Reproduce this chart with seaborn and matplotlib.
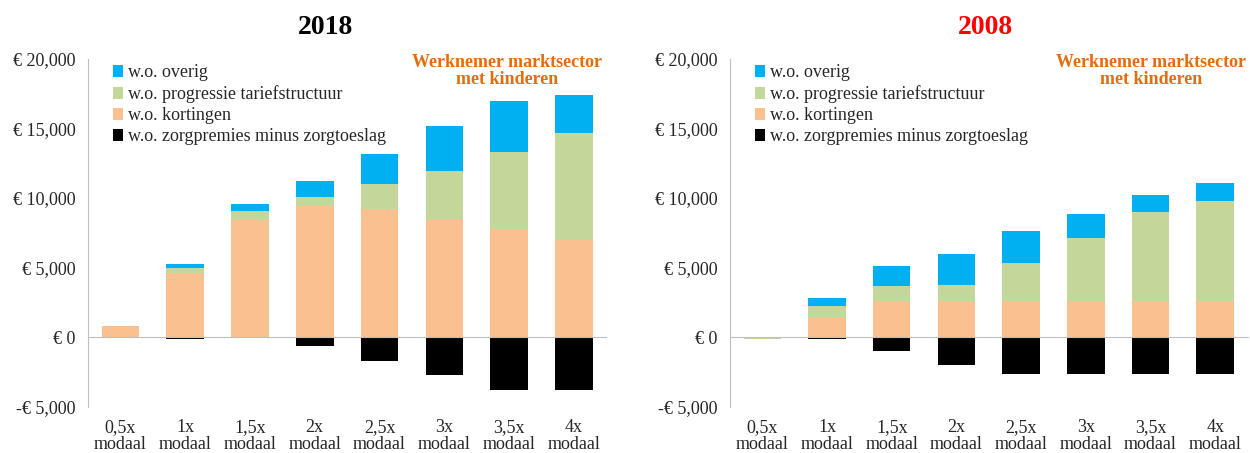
import numpy as np
import pandas as pd
import matplotlib
matplotlib.use("Agg")
import matplotlib.pyplot as plt
import matplotlib.ticker as mticker
from matplotlib.patches import Patch
import seaborn as sns

categories = ["0,5x\nmodaal", "1x\nmodaal", "1,5x\nmodaal", "2x\nmodaal",
              "2,5x\nmodaal", "3x\nmodaal", "3,5x\nmodaal", "4x\nmodaal"]

series = ["w.o. overig", "w.o. progressie tariefstructuur",
          "w.o. kortingen", "w.o. zorgpremies minus zorgtoeslag"]

# 2018 (segment sizes)
kortingen_2018 = [800, 4600, 8400, 9450, 9200, 8450, 7750, 6950]
progressie_2018 = [0, 350, 650, 650, 1800, 3500, 5550, 7750]
overig_2018 = [0, 300, 500, 1100, 2150, 3250, 3700, 2700]
zorg_2018 = [0, -100, 0, -600, -1700, -2750, -3800, -3800]

# 2008 (segment sizes)
kortingen_2008 = [0, 1420, 2570, 2570, 2570, 2570, 2570, 2570]
progressie_2008 = [-150, 840, 1110, 1180, 2760, 4590, 6400, 7240]
overig_2008 = [0, 580, 1460, 2210, 2270, 1660, 1220, 1290]
zorg_2008 = [0, -100, -990, -2000, -2620, -2620, -2620, -2620]

colors = {
    "w.o. overig": "#00B0F0",
    "w.o. progressie tariefstructuur": "#C4D79B",
    "w.o. kortingen": "#FAC090",
    "w.o. zorgpremies minus zorgtoeslag": "#000000",
}

sns.set_style("white")
plt.rcParams['font.family'] = ['Liberation Serif', 'DejaVu Serif']

fig = plt.figure(figsize=(12.5, 4.53), dpi=100)
ax1 = fig.add_axes([0.0704, 0.102, 0.4146, 0.768])
ax2 = fig.add_axes([0.584, 0.102, 0.414, 0.768])


def euro(v, pos):
    if v < 0:
        return "-€ {:,.0f}".format(-v)
    return "€ {:,.0f}".format(v)


def plot_panel(ax, layers):
    pos_base = np.zeros(len(categories))
    neg_base = np.zeros(len(categories))
    # stacking order from the zero line outward
    for name in ["w.o. kortingen", "w.o. progressie tariefstructuur",
                 "w.o. overig", "w.o. zorgpremies minus zorgtoeslag"]:
        vals = np.array(layers[name], dtype=float)
        bottom = np.where(vals >= 0, pos_base, neg_base)
        df = pd.DataFrame({"cat": categories, "val": vals})
        sns.barplot(data=df, x="cat", y="val", order=categories, bottom=bottom,
                    color=colors[name], saturation=1, width=0.58, linewidth=0,
                    errorbar=None, ax=ax)
        pos_base += np.where(vals > 0, vals, 0)
        neg_base += np.where(vals < 0, vals, 0)

    ax.set_xlim(-0.5, len(categories) - 0.5)
    ax.set_ylim(-5000, 20000)
    ax.set_yticks([-5000, 0, 5000, 10000, 15000, 20000])
    ax.yaxis.set_major_formatter(mticker.FuncFormatter(euro))
    ax.set_xlabel("")
    ax.set_ylabel("")

    for s in ["top", "right"]:
        ax.spines[s].set_visible(False)
    ax.spines["left"].set_color("#BFBFBF")
    ax.spines["bottom"].set_color("#BFBFBF")
    ax.spines["bottom"].set_position(("data", 0))

    ax.set_xticks(np.arange(-0.5, len(categories), 1))
    ax.set_xticklabels([])
    ax.tick_params(axis="x", direction="out", length=5, color="#BFBFBF")
    ax.tick_params(axis="y", direction="out", length=5, color="#BFBFBF",
                   labelsize=13, pad=4)
    for i, c in enumerate(categories):
        ax.text(i, -0.036, c, transform=ax.get_xaxis_transform(), ha="center",
                va="top", fontsize=13, linespacing=0.98)

    handles = [Patch(facecolor=colors[s], edgecolor="none") for s in series]
    ax.legend(handles, series, loc="upper left", bbox_to_anchor=(0.035, 1.005),
              frameon=False, fontsize=13, handlelength=0.55, handleheight=0.7,
              handletextpad=0.25, labelspacing=0.22, borderaxespad=0.0)


plot_panel(ax1, {"w.o. overig": overig_2018,
                 "w.o. progressie tariefstructuur": progressie_2018,
                 "w.o. kortingen": kortingen_2018,
                 "w.o. zorgpremies minus zorgtoeslag": zorg_2018})
plot_panel(ax2, {"w.o. overig": overig_2008,
                 "w.o. progressie tariefstructuur": progressie_2008,
                 "w.o. kortingen": kortingen_2008,
                 "w.o. zorgpremies minus zorgtoeslag": zorg_2008})

fig.text(326 / 1250, 1 - 28 / 453, "2018", ha="center", va="center",
         fontsize=20, fontweight="bold", color="black")
fig.text(985 / 1250, 1 - 28 / 453, "2008", ha="center", va="center",
         fontsize=20, fontweight="bold", color="#FF0000")

for xc in [507, 1151]:
    fig.text(xc / 1250, 1 - 71 / 453, "Werknemer marktsector\nmet kinderen",
             ha="center", va="center", fontsize=13, fontweight="bold",
             color="#E46C0A", linespacing=1.0)

fig.savefig("out.png", dpi=100)
